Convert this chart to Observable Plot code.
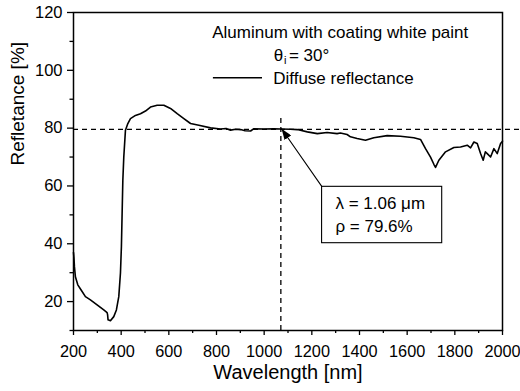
<!DOCTYPE html>
<html>
<head>
<meta charset="utf-8">
<script src="https://cdn.jsdelivr.net/npm/d3@7"></script>
<script src="https://cdn.jsdelivr.net/npm/@observablehq/plot@0.6"></script>
<style>
  html, body { margin: 0; padding: 0; background: #fff; }
  svg { display: block; }
</style>
</head>
<body>
<div id="chart"></div>
<script>
// ---- data ----
const wavelength = [200,202,204,208,218,232,250,271,299,327,
  341,343,345,355,369,380,390,397,401,404,
  407,411,418,428,439,460,481,502,523,551,
  579,607,635,663,691,726,775,817,840,859,
  880,901,920,943,957,999,1040,1069,1110,1139,
  1181,1223,1264,1306,1320,1348,1362,1390,1425,1460,
  1516,1572,1628,1656,1677,1698,1712,1719,1733,1761,
  1796,1824,1852,1866,1880,1894,1908,1919,1928,1936,
  1950,1964,1978,1992,2000];
const reflectance = [37,35,32,28.6,25.8,24,21.7,20.6,18.9,17.1,
  16.2,15.5,13.7,13.4,14.8,17.1,21.7,29.9,39,50.5,
  62,70,79.3,81.6,83.3,84.4,85,85.9,87.3,87.9,
  87.9,86.8,85,83.3,81.6,81,80.1,79.7,79.9,79.3,
  79.6,79.5,79.1,79.0,79.8,79.7,79.8,79.7,79.6,79.5,
  78.7,78.1,78.5,78.1,78.3,77.8,77,76.4,75.8,76.7,
  77.4,77.2,76.7,76.1,72.9,70.0,67.5,66.4,68.9,71.8,
  73.3,73.5,74.1,73.2,75.2,74.7,71.2,68.9,71.8,71.2,
  70,72.9,71.2,74.7,75.5];
const xTicks = [200,400,600,800,1000,1200,1400,1600,1800,2000];
const xMinor = [300,500,700,900,1100,1300,1500,1700,1900];
const yTicks = [20,40,60,80,100,120];
const yMinor = [10,30,50,70,90,110];
const markLambda = 1070;   // nm (1.06 µm marker)
const markRho = 79.6;      // %
const legendTitle = "Aluminum with coating white paint";
const seriesName = "Diffuse reflectance";
const annotLines = ["λ = 1.06 μm", "ρ = 79.6%"];

const data = wavelength.map((w, i) => ({w, r: reflectance[i]}));

const arrowHead = (color, context) => {
  const ns = "http://www.w3.org/2000/svg";
  const m = context.document.createElementNS(ns, "marker");
  m.setAttribute("viewBox", "-11 -4 11 8");
  m.setAttribute("markerWidth", 11);
  m.setAttribute("markerHeight", 8);
  m.setAttribute("orient", "auto");
  m.setAttribute("markerUnits", "userSpaceOnUse");
  m.setAttribute("refX", 0);
  m.setAttribute("refY", 0);
  const p = context.document.createElementNS(ns, "path");
  p.setAttribute("d", "M-11,-4L0,0L-11,4Z");
  p.setAttribute("fill", color);
  p.setAttribute("stroke", "none");
  m.appendChild(p);
  return m;
};

const font = "'Liberation Sans', Arial, sans-serif";
const fmt = d => String(d);

const chart = Plot.plot({
  width: 520,
  height: 391,
  marginLeft: 73,
  marginRight: 18,
  marginTop: 12,
  marginBottom: 61,
  style: {fontFamily: font, fontSize: "17px", color: "black", background: "white"},
  x: {domain: [200, 2000]},
  y: {domain: [10, 120]},
  marks: [
    // dashed reference lines
    Plot.ruleY([{y: markRho, x1: 200, x2: 2080}], {y: "y", x1: "x1", x2: "x2", stroke: "black", strokeWidth: 1.3, strokeDasharray: "5,4"}),
    Plot.ruleX([{x: markLambda, y1: 10, y2: 84.4}], {x: "x", y1: "y1", y2: "y2", stroke: "black", strokeWidth: 1.3, strokeDasharray: "5,4"}),
    // data curve
    Plot.line(data, {x: "w", y: "r", stroke: "black", strokeWidth: 1.6}),
    // axes
    Plot.axisX({ticks: xTicks, tickFormat: fmt, tickSize: 5, tickPadding: 10, label: null, fontSize: 16.3, strokeWidth: 1.3}),
    Plot.axisX({ticks: xMinor, tickSize: 3, text: null, label: null, strokeWidth: 1.3}),
    Plot.axisY({ticks: yTicks, tickFormat: fmt, tickSize: 6, tickPadding: 5, label: null, fontSize: 16.5, strokeWidth: 1.3}),
    Plot.axisY({ticks: yMinor, tickSize: 3.5, text: null, label: null, strokeWidth: 1.3}),
    Plot.frame({stroke: "black", strokeWidth: 1.5}),
    // axis titles
    Plot.text(["Wavelength [nm]"], {frameAnchor: "bottom", dy: 48, fontSize: 20, fill: "black"}),
    Plot.text(["Refletance [%]"], {frameAnchor: "left", dx: -56, dy: -6, rotate: -90, fontSize: 19, fill: "black"}),
    // legend
    Plot.text([legendTitle], {x: () => 782, y: () => 113.2, textAnchor: "start", fontSize: 17, fill: "black"}),
    Plot.text(["θ"], {x: () => 1040, y: () => 105.2, textAnchor: "start", fontSize: 17, fill: "black"}),
    Plot.text(["i"], {x: () => 1083, y: () => 105.2, dy: 5, textAnchor: "start", fontSize: 11, fill: "black"}),
    Plot.text(["= 30°"], {x: () => 1104, y: () => 105.2, textAnchor: "start", fontSize: 17, fill: "black"}),
    Plot.ruleY([{y: 97.4, x1: 787, x2: 993}], {y: "y", x1: "x1", x2: "x2", stroke: "black", strokeWidth: 1.5}),
    Plot.text([seriesName], {x: () => 1038, y: () => 97.2, textAnchor: "start", fontSize: 17, fill: "black"}),
    // annotation arrow and box
    Plot.line([{x: 1243, y: 59.7}, {x: markLambda + 3, y: markRho + 0.2}], {x: "x", y: "y", stroke: "black", strokeWidth: 1.1, markerEnd: arrowHead}),
    Plot.rect([{x1: 1243, x2: 1747, y1: 40.2, y2: 59.7}], {x1: "x1", x2: "x2", y1: "y1", y2: "y2", fill: "white", stroke: "black", strokeWidth: 1.1}),
    Plot.text([annotLines[0]], {x: () => 1299, y: () => 54.0, textAnchor: "start", fontSize: 17, fill: "black"}),
    Plot.text([annotLines[1]], {x: () => 1299, y: () => 45.9, textAnchor: "start", fontSize: 17, fill: "black"})
  ]
});
document.getElementById("chart").appendChild(chart);
</script>
</body>
</html>
